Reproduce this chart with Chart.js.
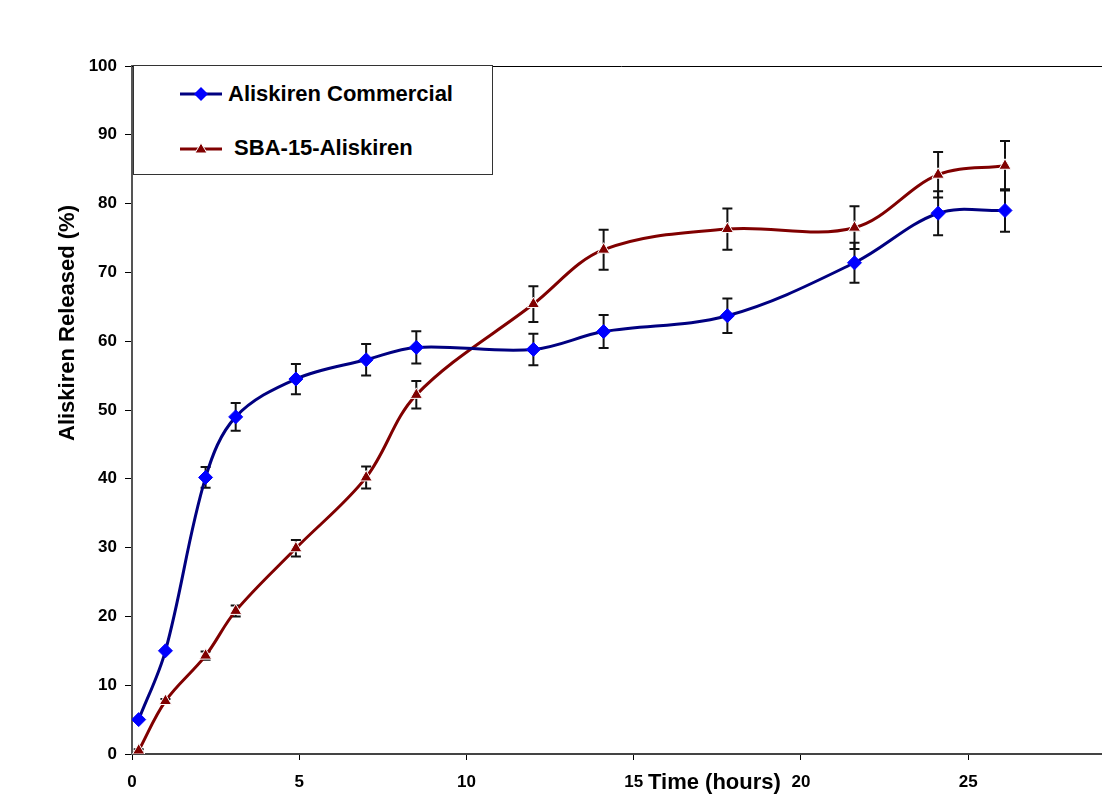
<!DOCTYPE html>
<html>
<head>
<meta charset="utf-8">
<script src="https://cdn.jsdelivr.net/npm/chart.js@4.4.1/dist/chart.umd.min.js"></script>
<style>
  html, body { margin: 0; background: #fff; overflow: hidden; font-family: "Liberation Sans", Arial, sans-serif; }
  /* el lienzo es un poco más ancho para que el eje llegue al borde de la ventana */
  #wrap { position: relative; width: 1110px; height: 800px; }
  #legend {
    position: absolute; left: 133px; top: 65px; width: 360px; height: 110px;
    border: 1px solid #333; background: #fff; box-sizing: border-box;
  }
  .item { position: absolute; left: 46px; display: flex; align-items: center;
    font-weight: bold; font-size: 22px; color: #000; white-space: nowrap; }
  .item svg { margin-right: 6px; }
  #xtitle { position: absolute; left: 648px; top: 769px; font-weight: bold; font-size: 22px; white-space: nowrap; }
  #ytitle { position: absolute; left: 67px; top: 323px; font-weight: bold; font-size: 22px; white-space: nowrap;
    transform: translate(-50%, -50%) rotate(-90deg); }
</style>
</head>
<body>
<div id="wrap">
  <canvas id="releaseChart"></canvas>
  <div id="legend">
    <div class="item" style="top:15px">
      <svg width="42" height="16"><line x1="0" y1="8" x2="42" y2="8" stroke="#000080" stroke-width="3"/>
        <polygon points="21,1 28,8 21,15 14,8" fill="#0000FF"/></svg>Aliskiren Commercial</div>
    <div class="item" style="top:69px">
      <svg width="42" height="16"><line x1="0" y1="9" x2="42" y2="9" stroke="#800000" stroke-width="3"/>
        <polygon points="21,3 27,13 15,13" fill="#800000" stroke="#fff" stroke-width="1"/></svg>&nbsp;SBA-15-Aliskiren</div>
  </div>
  <div id="xtitle">Time (hours)</div>
  <div id="ytitle">Aliskiren Released (%)</div>
</div>
<script>
// tiempos de muestreo (horas)
const timeHours = [0.2, 1, 2.2, 3.1, 4.9, 7, 8.5, 12, 14.1, 17.8, 21.6, 24.1, 26.1];
// liberación acumulada (%)
const commercial = [5, 15, 40.2, 49, 54.5, 57.3, 59.1, 58.8, 61.4, 63.7, 71.4, 78.6, 79];
const sba15 = [0.5, 7.7, 14.3, 20.8, 29.9, 40.2, 52.2, 65.4, 73.3, 76.3, 76.5, 84.2, 85.5];
// desviaciones (barras de error)
const commercialErr = [0, 0, 1.5, 2.0, 2.2, 2.3, 2.35, 2.3, 2.4, 2.5, 2.9, 3.2, 3.1];
const sba15Err = [0.2, 0.3, 0.6, 0.8, 1.2, 1.6, 2.0, 2.6, 2.9, 3.0, 3.1, 3.3, 3.6];
const xTicks = [0, 5, 10, 15, 20, 25];
const yTicks = [0, 10, 20, 30, 40, 50, 60, 70, 80, 90, 100];
const xMax = 29;

const errors = [commercialErr, sba15Err];

function toPoints(ys) {
    return timeHours.map((t, i) => ({ x: t, y: ys[i] }));
}

// dibuja barras de error y la línea superior del área
const errorBarsPlugin = {
    id: 'errorBars',
    beforeDatasetsDraw(chart) {
        const ctx = chart.ctx;
        const xs = chart.scales.x, ys = chart.scales.y;
        const area = chart.chartArea;
        ctx.save();
        ctx.strokeStyle = '#000';
        ctx.lineWidth = 1;
        ctx.beginPath();
        ctx.moveTo(area.left, area.top + 0.5);
        ctx.lineTo(area.right + 10, area.top + 0.5);
        ctx.stroke();

        ctx.strokeStyle = '#111';
        ctx.lineWidth = 2;
        chart.data.datasets.forEach((ds, di) => {
            ds.data.forEach((p, i) => {
                const e = errors[di][i];
                if (!e) return;
                const px = xs.getPixelForValue(p.x);
                const top = ys.getPixelForValue(p.y + e);
                const bot = ys.getPixelForValue(p.y - e);
                ctx.beginPath();
                ctx.moveTo(px, top); ctx.lineTo(px, bot);
                ctx.moveTo(px - 5, top); ctx.lineTo(px + 5, top);
                ctx.moveTo(px - 5, bot); ctx.lineTo(px + 5, bot);
                ctx.stroke();
            });
        });
        ctx.restore();
    }
};

const tickFont = { family: '"Liberation Sans", Arial, sans-serif', size: 17, weight: 'bold' };

new Chart(document.getElementById('releaseChart'), {
    type: 'line',
    data: {
        datasets: [{
            label: 'Aliskiren Commercial',
            data: toPoints(commercial),
            borderColor: '#000080',
            borderWidth: 3,
            tension: 0.35,
            pointStyle: 'rectRot',
            pointRadius: 7,
            pointBackgroundColor: '#0000FF',
            pointBorderColor: '#0000FF',
            pointBorderWidth: 1
        }, {
            label: 'SBA-15-Aliskiren',
            data: toPoints(sba15),
            borderColor: '#800000',
            borderWidth: 3,
            tension: 0.35,
            pointStyle: 'triangle',
            pointRadius: 7,
            pointBackgroundColor: '#800000',
            pointBorderColor: '#ffffff',
            pointBorderWidth: 1
        }]
    },
    options: {
        responsive: true,
        maintainAspectRatio: false,
        animation: false,
        layout: { padding: { top: 66, right: 0, left: 0, bottom: 0 } },
        plugins: { legend: { display: false }, tooltip: { enabled: false } },
        scales: {
            x: {
                type: 'linear',
                min: 0,
                max: xMax,
                afterBuildTicks: scale => { scale.ticks = xTicks.map(v => ({ value: v })); },
                afterFit: scale => { scale.height = 46; },
                ticks: { font: tickFont, color: '#000', padding: 12, maxRotation: 0, autoSkip: false },
                grid: { drawOnChartArea: false, drawTicks: true, tickLength: 6, color: '#000' },
                border: { color: '#444', width: 2 }
            },
            y: {
                min: 0,
                max: 100,
                afterBuildTicks: scale => { scale.ticks = yTicks.map(v => ({ value: v })); },
                afterFit: scale => { scale.width = 132; },
                ticks: { font: tickFont, color: '#000', padding: 8 },
                grid: { drawOnChartArea: false, drawTicks: true, tickLength: 7, color: '#000' },
                border: { color: '#555', width: 2 }
            }
        }
    },
    plugins: [errorBarsPlugin]
});
</script>
</body>
</html>
